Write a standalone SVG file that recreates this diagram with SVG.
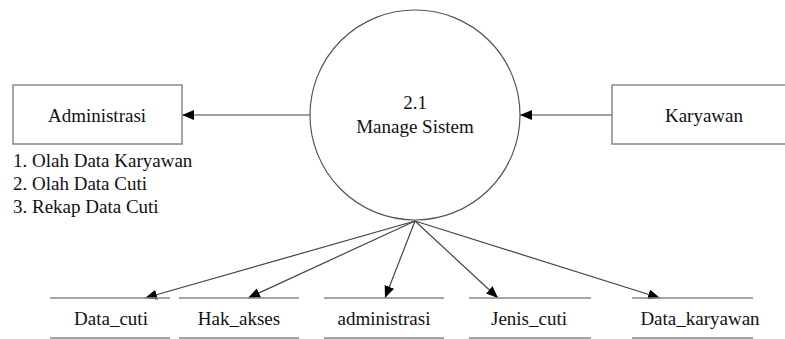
<svg xmlns="http://www.w3.org/2000/svg" width="785" height="339" viewBox="0 0 785 339">
  <defs>
    <marker id="arrow" viewBox="0 0 12 10" refX="12" refY="5" markerWidth="12" markerHeight="10" markerUnits="userSpaceOnUse" orient="auto">
      <path d="M0,0 L12,5 L0,10 Z" fill="#000"/>
    </marker>
  </defs>
  <style>
    text { font-family: "Liberation Serif", "DejaVu Serif", "Times New Roman", Times, serif; font-size: 19px; fill: #111; }
    .mid { text-anchor: middle; }
    .box { fill: #fff; stroke: #888; stroke-width: 1.5; }
    .proc { fill: #fff; stroke: #555; stroke-width: 1.2; }
    .store { stroke: #888; stroke-width: 1.5; }
    .flow { stroke: #444; stroke-width: 1.2; fill: none; marker-end: url(#arrow); }
  </style>
  <rect width="785" height="339" fill="#fff"/>

  <!-- data flows -->
  <g id="connectors">
    <line class="flow" x1="310" y1="115" x2="182" y2="115"/>
    <line class="flow" x1="612" y1="115" x2="520" y2="115"/>
    <line class="flow" x1="415" y1="221" x2="145" y2="298"/>
    <line class="flow" x1="415" y1="221" x2="248" y2="298"/>
    <line class="flow" x1="415" y1="221" x2="385" y2="298"/>
    <line class="flow" x1="415" y1="221" x2="498" y2="298"/>
    <line class="flow" x1="415" y1="221" x2="660" y2="298"/>
  </g>

  <!-- external entities -->
  <g id="administrasi-entity">
    <rect class="box" x="13" y="85" width="169" height="59"/>
    <text class="mid" x="97" y="122" font-family="Liberation Serif, serif">Administrasi</text>
  </g>
  <g id="administrasi-notes" font-family="Liberation Serif, serif">
    <text x="13" y="167">1. Olah Data Karyawan</text>
    <text x="13" y="190">2. Olah Data Cuti</text>
    <text x="13" y="213">3. Rekap Data Cuti</text>
  </g>
  <g id="karyawan-entity">
    <rect class="box" x="612" y="85" width="190" height="59"/>
    <text class="mid" x="704" y="122">Karyawan</text>
  </g>

  <!-- process -->
  <g id="process-2-1">
    <circle class="proc" cx="415" cy="115" r="105"/>
    <text class="mid" x="415" y="109">2.1</text>
    <text class="mid" x="415" y="133">Manage Sistem</text>
  </g>

  <!-- data stores -->
  <g id="store-data-cuti">
    <line class="store" x1="50" y1="298" x2="170" y2="298"/>
    <line class="store" x1="50" y1="338" x2="170" y2="338"/>
    <text class="mid" x="111" y="325">Data_cuti</text>
  </g>
  <g id="store-hak-akses">
    <line class="store" x1="179" y1="298" x2="299" y2="298"/>
    <line class="store" x1="179" y1="338" x2="299" y2="338"/>
    <text class="mid" x="239" y="325">Hak_akses</text>
  </g>
  <g id="store-administrasi">
    <line class="store" x1="324" y1="298" x2="444" y2="298"/>
    <line class="store" x1="324" y1="338" x2="444" y2="338"/>
    <text class="mid" x="384" y="325">administrasi</text>
  </g>
  <g id="store-jenis-cuti">
    <line class="store" x1="469" y1="298" x2="591" y2="298"/>
    <line class="store" x1="469" y1="338" x2="591" y2="338"/>
    <text class="mid" x="529" y="325">Jenis_cuti</text>
  </g>
  <g id="store-data-karyawan">
    <line class="store" x1="632" y1="298" x2="753" y2="298"/>
    <line class="store" x1="632" y1="338" x2="753" y2="338"/>
    <text class="mid" x="700" y="325">Data_karyawan</text>
  </g>
</svg>
